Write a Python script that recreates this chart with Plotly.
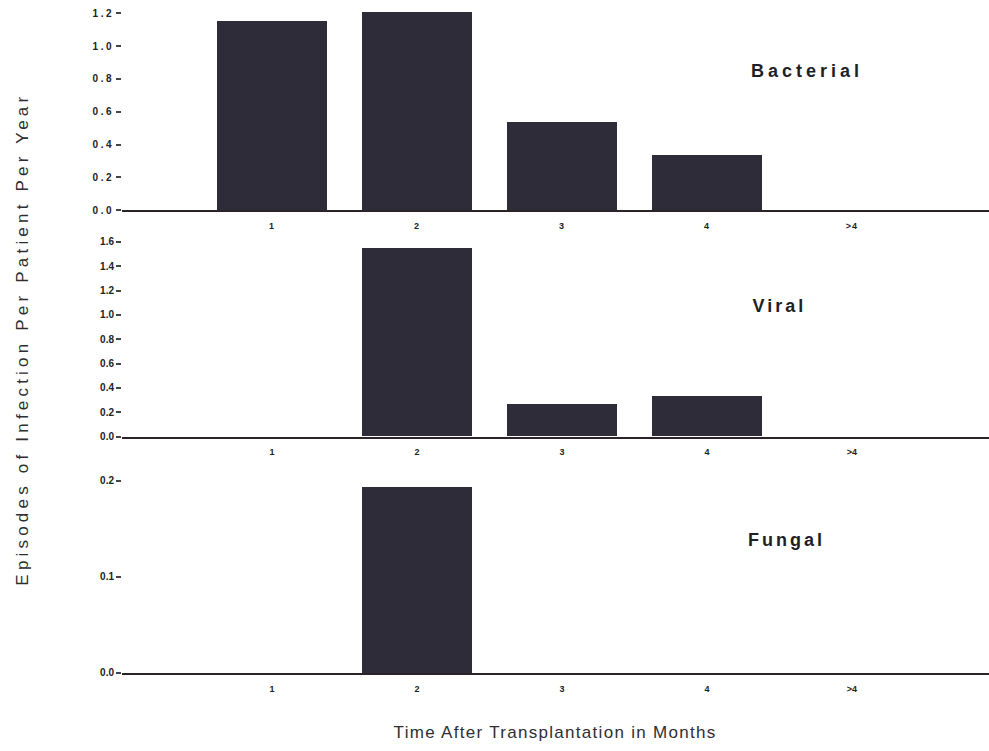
import plotly.graph_objects as go

categories = ["1", "2", "3", "4", ">4"]
bacterial = [1.15, 1.21, 0.54, 0.335, 0.0]
viral = [0.0, 1.547, 0.263, 0.33, 0.0]
fungal = [0.0, 0.194, 0.0, 0.0, 0.0]

bact_ticks = [0.0, 0.2, 0.4, 0.6, 0.8, 1.0, 1.2]
viral_ticks = [0.0, 0.2, 0.4, 0.6, 0.8, 1.0, 1.2, 1.4, 1.6]
fungal_ticks = [0.0, 0.1, 0.2]

panel_names = ["Bacterial", "Viral", "Fungal"]

W, H = 989, 751
L = 122            # left margin (px)
PW = W - L         # plot width
CAL_O, CAL_H = 2.0, 743.0   # observed vertical mapping of the rendered page
BAR = "#2e2c38"
LINE = "#2a2328"
FONT = "Liberation Sans, Arial, sans-serif"


def px(page_x):
    return (page_x - L) / PW


def py(page_y):
    return min(1.0, max(0.0, 1.0 - (page_y - CAL_O) / CAL_H))


fig = go.Figure()

series = [bacterial, viral, fungal]
ticksets = [bact_ticks, viral_ticks, fungal_ticks]
# (zero px, top px, pixels per unit)
geom = [(211, 4, 164.0), (437, 238, 121.5), (673, 474, 960.0)]
label_pos = [(807, 72), (779, 307), (786, 540)]

for i, (vals, ticks, (z, top, ppu)) in enumerate(zip(series, ticksets, geom)):
    n = "" if i == 0 else str(i + 1)
    fig.add_trace(go.Bar(x=categories, y=vals, marker=dict(color=BAR, line=dict(width=0)),
                         width=0.755, xaxis="x" + n, yaxis="y" + n, showlegend=False))
    dom = [py(z), py(top)]
    rng = [0, (z - top) / ppu]
    fig.update_layout(**{
        "xaxis" + n: dict(domain=[0, 1], anchor="y" + n, type="category",
                          range=[-1.034, 4.945], showline=True, linecolor=LINE, linewidth=2,
                          showgrid=False, zeroline=False, ticks="outside", ticklen=6,
                          tickcolor="rgba(0,0,0,0)",
                          tickfont=dict(family=FONT, size=9, color="#222", weight="bold")),
        "yaxis" + n: dict(domain=dom, anchor="x" + n, range=rng, showgrid=False,
                          zeroline=False, showline=False, tickmode="array",
                          tickvals=ticks, ticktext=[f"{t:.1f}" for t in ticks],
                          ticks="outside", ticklen=5, tickwidth=1.5, tickcolor="#444",
                          tickfont=dict(family=FONT, size=10, color="#222", weight="bold")),
    })
    fig.add_annotation(x=px(label_pos[i][0]), y=py(label_pos[i][1]), xref="paper", yref="paper",
                       xanchor="center", yanchor="middle",
                       text="<b>" + panel_names[i] + "</b>", showarrow=False,
                       font=dict(family=FONT, size=18, color="#1e1e26"))

fig.add_annotation(text="Episodes of Infection Per Patient Per Year", textangle=-90,
                   xref="paper", yref="paper", x=px(22), y=py(340), showarrow=False,
                   xanchor="center", yanchor="middle",
                   font=dict(family=FONT, size=17, color="#2e2e33"))
fig.add_annotation(text="Time After Transplantation in Months",
                   xref="paper", yref="paper", x=px(555), y=py(733),
                   xanchor="center", yanchor="middle",
                   showarrow=False, font=dict(family=FONT, size=17, color="#2e2e33"))

fig.update_layout(width=W, height=H, margin=dict(l=L, r=0, t=0, b=0),
                  plot_bgcolor="white", paper_bgcolor="white", bargap=0)

post = """
document.body.style.margin = '0';
document.documentElement.style.overflow = 'hidden';
var gd = document.getElementById('{plot_id}');
var sp = ['4px', '3px', '3px', '4.2px', '1.3px'];
gd.querySelectorAll('.annotation-text').forEach(function(e, k){ e.style.letterSpacing = sp[k] || '0px'; });
gd.querySelectorAll('.ytick text').forEach(function(e){ e.style.letterSpacing = '2.5px'; });
gd.querySelectorAll('.xtick text').forEach(function(e){ e.style.letterSpacing = '1px'; });
"""

fig.write_html("out.html", post_script=post,
               config={"responsive": False, "displayModeBar": False})
